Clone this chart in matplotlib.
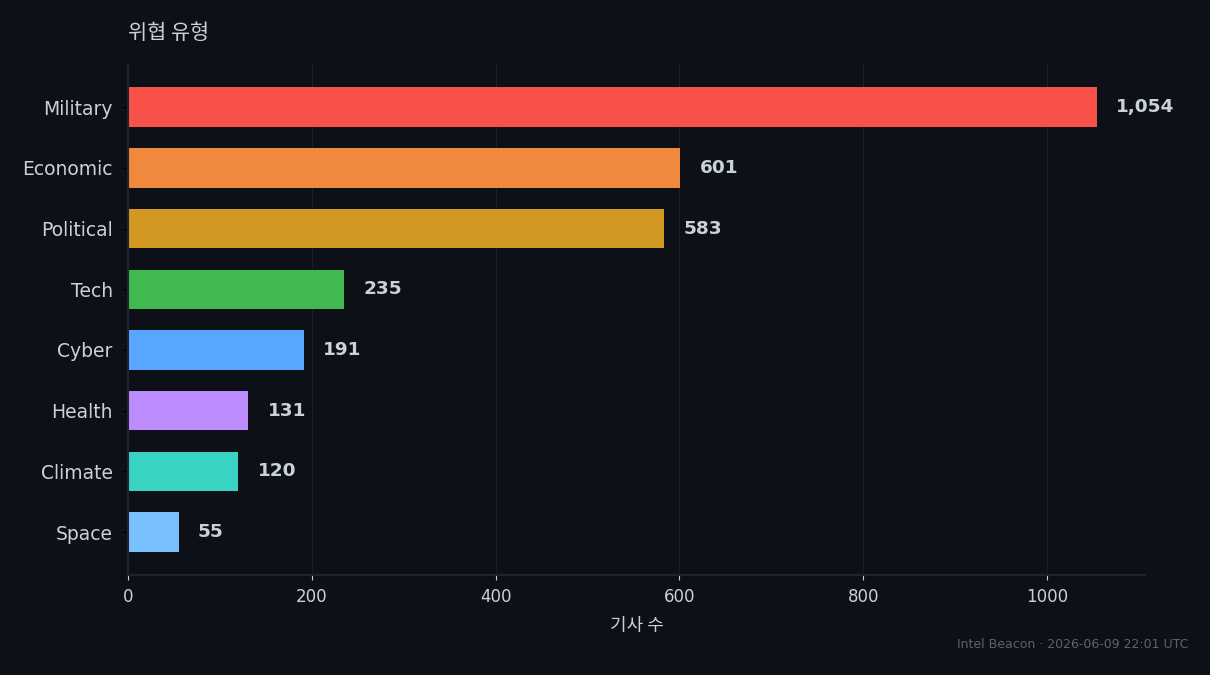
import matplotlib
matplotlib.use("Agg")
import matplotlib.pyplot as plt

plt.rcParams['font.family'] = ['DejaVu Sans', 'Noto Sans CJK KR']

# data
categories = ["Military", "Economic", "Political", "Tech", "Cyber", "Health", "Climate", "Space"]
counts = [1054, 601, 583, 235, 191, 131, 120, 55]
colors = ["#f85149", "#f0883e", "#d29922", "#3fb950", "#58a6ff", "#bc8cff", "#39d3c3", "#79c0ff"]

BG = "#0d1017"
TXT = "#c9d1d9"
EDGE = "#1f2430"

fig, ax = plt.subplots(figsize=(12.1, 6.75), dpi=100)
fig.patch.set_facecolor(BG)
ax.set_facecolor(BG)
fig.subplots_adjust(left=0.1058, right=0.9463, top=0.905, bottom=0.148)

y = list(range(len(categories)))[::-1]
ax.barh(y, counts, height=0.65, color=colors)
ax.set_yticks(y)
ax.set_yticklabels(categories)
ax.set_xlim(0, max(counts) * 1.05)

off = max(counts) * 0.02
for yi, v in zip(y, counts):
    ax.text(v + off, yi, f"{v:,}", va="center", ha="left", color=TXT,
            fontsize=13.3, fontweight="bold")

for s in ["top", "right"]:
    ax.spines[s].set_visible(False)
for s in ["left", "bottom"]:
    ax.spines[s].set_color(EDGE)
    ax.spines[s].set_linewidth(1.5)

ax.tick_params(axis="x", colors=TXT, labelsize=12, pad=6)
ax.tick_params(axis="y", color="black", labelcolor=TXT, labelsize=13.5, length=4, pad=7)
ax.xaxis.grid(True, color=EDGE, linewidth=0.8, alpha=0.7)
ax.set_axisbelow(True)

ax.set_xlabel("기사 수", color=TXT, fontsize=13, family=['Noto Sans CJK KR', 'DejaVu Sans'], labelpad=8)
ax.set_title("위협 유형", loc="left", color=TXT, fontsize=15,
             family=['Noto Sans CJK KR', 'DejaVu Sans'], pad=18)

fig.text(0.982, 0.035, "Intel Beacon · 2026-06-09 22:01 UTC", ha="right", va="bottom",
         color="#5b6370", fontsize=9)

fig.savefig("out.png", dpi=100, facecolor=BG)
